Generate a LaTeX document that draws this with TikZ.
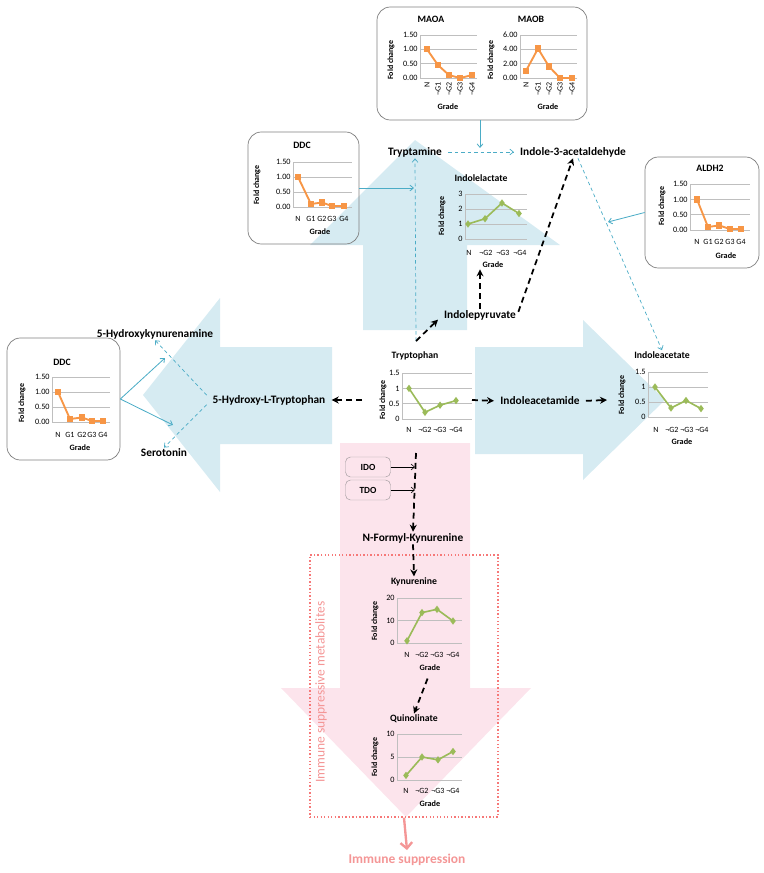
\documentclass[tikz,border=0pt]{standalone}
\usepackage{fontspec}
\setmainfont{Carlito}
\usetikzlibrary{arrows.meta,plotmarks}

\definecolor{arrblue}{RGB}{214,235,242}
\definecolor{arrpink}{RGB}{252,228,236}
\definecolor{lnblue}{RGB}{75,172,198}
\definecolor{serorange}{RGB}{247,150,70}
\definecolor{sergreen}{RGB}{155,187,89}
\definecolor{gridgray}{RGB}{191,191,191}
\definecolor{boxgray}{RGB}{127,127,127}
\definecolor{salmon}{RGB}{244,150,150}

\tikzset{
  lbl/.style={font=\bfseries\fontsize{9.7}{11}\selectfont, inner sep=1pt},
  ttl/.style={font=\bfseries\fontsize{8.3}{10}\selectfont, inner sep=1pt},
  fclab/.style={font=\bfseries\fontsize{6.8}{8}\selectfont, rotate=90, inner sep=0pt},
  grd/.style={font=\bfseries\fontsize{7}{8}\selectfont, inner sep=1pt},
  tck/.style={font=\fontsize{7}{8}\selectfont, anchor=east, inner sep=1pt},
  cat/.style={font=\fontsize{6.8}{8}\selectfont, inner sep=0pt},
  gridln/.style={gridgray, line width=0.5pt},
  orser/.style={serorange, line width=1.6pt, mark=square*, mark size=1.9pt, mark options={fill=serorange}},
  grser/.style={sergreen, line width=1.4pt, mark=diamond*, mark size=2pt, mark options={fill=sergreen}},
  enzbox/.style={draw=boxgray, rounded corners=4mm, line width=0.6pt},
  ezsm/.style={draw=boxgray!70!arrpink, fill=arrpink, rounded corners=1.5mm, minimum width=13.5mm, minimum height=6mm, font=\bfseries\fontsize{8}{9}\selectfont},
  cydash/.style={lnblue, line width=0.6pt, dash pattern=on 3pt off 2.5pt, -{Straight Barb[length=3pt,width=5pt]}},
  cysolid/.style={lnblue, line width=0.7pt, -{Straight Barb[length=3pt,width=5pt]}},
  bkdash/.style={black, line width=1.5pt, dash pattern=on 5pt off 3.5pt, -{Stealth[length=6pt,width=6pt]}},
  bkthin/.style={black, line width=0.5pt, -{Straight Barb[length=3pt,width=5pt]}},
  dotbx/.style={draw=salmon!80!red, line width=1.2pt, dash pattern=on 1.2pt off 1.8pt, minimum width=56.4mm, minimum height=78.6mm},
}

% grid of a fold change chart: left, right, zero line, step, tick labels
\newcommand\fcgrid[5]{%
  \foreach \lab [count=\kk from 0] in {#5}
    {\draw[gridln] (#1,#3-\kk*#4) -- (#2,#3-\kk*#4);
     \draw[gridln] (#1,#3) -- (#1,#3-\kk*#4);
     \node[tck] at (#1-1,#3-\kk*#4) {\lab};}}

\begin{document}
\begin{tikzpicture}[x=0.3mm,y=-0.3mm]
\useasboundingbox (0,0) rectangle (763,873);

% big arrows
\fill[arrblue] (363,330) -- (363,245) -- (310,245) -- (415,140) -- (560,245) -- (467,245) -- (467,330) -- cycle;
\fill[arrblue] (332,347) -- (220,347) -- (220,298) -- (143,395) -- (220,492) -- (220,444) -- (332,444) -- cycle;
\fill[arrblue] (475,347) -- (583,347) -- (583,320) -- (665,400) -- (583,480) -- (583,454) -- (475,454) -- cycle;
\fill[arrpink] (340,443) -- (470,443) -- (470,688) -- (531,688) -- (406,817) -- (281,688) -- (340,688) -- cycle;

% enzyme boxes
\node[enzbox, minimum width=63mm, minimum height=33.9mm] (maobox) at (482,63.5) {};
\node[enzbox, minimum width=33.3mm, minimum height=33.6mm] (ddcbox) at (303.5,188) {};
\node[enzbox, minimum width=34.2mm, minimum height=33.3mm] (aldhbox) at (702,212.5) {};
\node[enzbox, minimum width=33.9mm, minimum height=36.6mm] (ddcbox2) at (63.5,399) {};

% MAOA
\node[ttl] (maoa) at (431,19) {MAOA};
\fcgrid{420}{477}{78}{14.33}{0.00,0.50,1.00,1.50}
\node[fclab] at (391,60) {Fold change};
\foreach \x/\c in {427/N,438/¬G1,449/¬G2,460/¬G3,472/¬G4}
  \node[cat, rotate=90, anchor=east] at (\x,82) {\c};
\node[grd] at (448,107) {Grade};
\draw[orser] plot coordinates {(427,49.3) (438,65.1) (449,75.1) (460,78) (472,75.1)};

% MAOB
\node[ttl] (maob) at (531,19) {MAOB};
\fcgrid{520}{577}{78}{14.33}{0.00,2.00,4.00,6.00}
\node[fclab] at (491,60) {Fold change};
\foreach \x/\c in {526/N,538/¬G1,549/¬G2,560/¬G3,572/¬G4}
  \node[cat, rotate=90, anchor=east] at (\x,82) {\c};
\node[grd] at (548,107) {Grade};
\draw[orser] plot coordinates {(526,70.8) (538,48.6) (549,66.5) (560,78) (572,78)};

% DDC (top)
\node[ttl] (ddc1) at (302,145) {DDC};
\fcgrid{293}{352}{207}{15}{0.00,0.50,1.00,1.50}
\node[fclab] at (257,185) {Fold change};
\foreach \x/\c in {298/N,311/G1,322/G2,332/G3,344/G4}
  \node[cat] at (\x,219) {\c};
\node[grd] at (320,232) {Grade};
\draw[orser] plot coordinates {(298,177) (311,204) (322,202.5) (332,206) (344,206)};

% ALDH2
\node[ttl] (aldh) at (710,168) {ALDH2};
\fcgrid{690}{750}{230}{15.3}{0.00,0.50,1.00,1.50}
\node[fclab] at (662,206) {Fold change};
\foreach \x/\c in {697/N,708/G1,719/G2,730/G3,741/G4}
  \node[cat] at (\x,242) {\c};
\node[grd] at (726,256) {Grade};
\draw[orser] plot coordinates {(697,199.4) (708,227) (719,225.4) (730,229) (741,229)};

% DDC (left)
\node[ttl] (ddc2) at (62,362) {DDC};
\fcgrid{52}{110}{422}{15}{0.00,0.50,1.00,1.50}
\node[fclab] at (22,403) {Fold change};
\foreach \x/\c in {58/N,70/G1,82/G2,92/G3,103/G4}
  \node[cat] at (\x,435) {\c};
\node[grd] at (80,448) {Grade};
\draw[orser] plot coordinates {(58,392) (70,419) (82,417.5) (92,421) (103,421)};

% Indolelactate
\node[ttl] (ilac) at (481,178) {Indolelactate};
\fcgrid{465}{527}{239}{15}{0,1,2,3}
\node[fclab] at (442,216) {Fold change};
\foreach \x/\c in {469/N,486/¬G2,503/¬G3,520/¬G4}
  \node[cat] at (\x,253) {\c};
\node[grd] (ilacg) at (493,265) {Grade};
\draw[grser] plot coordinates {(468,224) (485,218.7) (502,203) (519,213.5)};

% Tryptophan
\node[ttl] (trp) at (415,356) {Tryptophan};
\fcgrid{402}{472}{419}{15.3}{0,0.5,1,1.5}
\node[fclab] at (383,400) {Fold change};
\foreach \x/\c in {409/N,425/¬G2,440/¬G3,456/¬G4}
  \node[cat] at (\x,430) {\c};
\draw[grser] plot coordinates {(409,388.4) (425,412.3) (440,405.2) (456,400.6)};

% Indoleacetate
\node[ttl] (iac) at (662,355) {Indoleacetate};
\fcgrid{648}{708}{417}{15}{0,0.5,1,1.5}
\node[fclab] at (622,395) {Fold change};
\foreach \x/\c in {656/N,672/¬G2,687/¬G3,702/¬G4}
  \node[cat] at (\x,430) {\c};
\node[grd] at (682,442) {Grade};
\draw[grser] plot coordinates {(655,387) (671,408) (686,400.5) (701,408.6)};

% Kynurenine
\node[ttl] (kyn) at (414,582) {Kynurenine};
\fcgrid{397}{462}{643}{22.5}{0,10,20}
\node[fclab] at (375,621) {Fold change};
\foreach \x/\c in {407/N,422/¬G2,437/¬G3,453/¬G4}
  \node[cat] at (\x,655) {\c};
\node[grd] (kyng) at (430,668) {Grade};
\draw[grser] plot coordinates {(407,640.8) (422,612.6) (437,609.3) (453,621)};

% Quinolinate
\node[ttl] (quin) at (414,719) {Quinolinate};
\fcgrid{397}{462}{780}{23}{0,5,10}
\node[fclab] at (375,757) {Fold change};
\foreach \x/\c in {406/N,422/¬G2,438/¬G3,453/¬G4}
  \node[cat] at (\x,791) {\c};
\node[grd] at (430,804) {Grade};
\draw[grser] plot coordinates {(406,775.4) (422,757) (438,759.8) (453,751.5)};

% metabolites
\node[lbl] (tam) at (415,152) {Tryptamine};
\node[lbl] (iald) at (573,152) {Indole-3-acetaldehyde};
\node[lbl] (ipyr) at (480,315) {Indolepyruvate};
\node[lbl] (hkyn) at (155,334) {5-Hydroxykynurenamine};
\node[lbl] (htp) at (269,400) {5-Hydroxy-L-Tryptophan};
\node[lbl] (sero) at (164,453) {Serotonin};
\node[lbl] (iam) at (540,401) {Indoleacetamide};
\node[lbl] (nfk) at (413,538) {N-Formyl-Kynurenine};
\node[ezsm] (ido) at (368,467) {IDO};
\node[ezsm] (tdo) at (368,490) {TDO};

\node[dotbx] (dotbox) at (404,686) {};
\node[salmon, rotate=90, font=\fontsize{11.5}{13}\selectfont] (imtxt) at (321,692) {Immune suppressive metabolites};
\node[salmon, font=\bfseries\fontsize{11.5}{13}\selectfont] (imsup) at (407,860) {Immune suppression};

% free ends
\coordinate (trptop) at (416,341);
\coordinate (trpb) at (416,453);
\coordinate (trpl) at (362,400);
\coordinate (trpr) at (472,400);
\coordinate (iacl) at (607,400);
\coordinate (ddcin) at (414,188);
\coordinate (maoin) at (480,148);
\coordinate (aldin) at (608,222);
\coordinate (hkin) at (165,358);
\coordinate (sein) at (173,425);
\coordinate (idoin) at (415,467);
\coordinate (tdoin) at (415,490);

% connectors
\draw[cydash] (trptop) -- (tam.south);
\draw[cydash, shorten <=1.5mm, shorten >=1.5mm] (tam.east) -- (iald.west);
\draw[cysolid] (ddcbox.east |- ddcin) -- (ddcin);
\draw[cysolid] (maobox.south -| maoin) -- (maoin);
\draw[cysolid] (aldhbox.west) -- (aldin);
\draw[cydash] ([xshift=1.5mm]iald.south) -- (iac.north);
\draw[cydash, shorten <=2mm] (htp.west) -- (hkyn.south);
\draw[cydash, shorten <=2mm] (htp.west) -- (sero.north);
\draw[cysolid] (ddcbox2.east) -- (hkin);
\draw[cysolid] (ddcbox2.east) -- (sein);
\draw[bkdash, shorten >=2mm] (trptop) -- (ipyr.west);
\draw[bkdash] (ipyr.north) -- (ipyr.north |- ilacg.south);
\draw[bkdash, shorten <=1mm] (ipyr.east) -- (iald.south);
\draw[bkdash, shorten >=1.5mm] (trpl) -- (htp.east);
\draw[bkdash, shorten >=1.5mm] (trpr) -- (iam.west);
\draw[bkdash, shorten <=1.5mm] (iam.east) -- (iacl);
\draw[bkdash] (trpb) -- (nfk.north);
\draw[bkthin] (ido.east) -- (idoin);
\draw[bkthin] (tdo.east) -- (tdoin);
\draw[bkdash] (nfk.south) -- (kyn.north);
\draw[bkdash, shorten <=2mm] (kyng.south) -- (quin.north);
\draw[salmon, line width=2pt, -{Straight Barb[length=5pt,width=10pt]}] (dotbox.south) -- (imsup.north);
\end{tikzpicture}
\end{document}
